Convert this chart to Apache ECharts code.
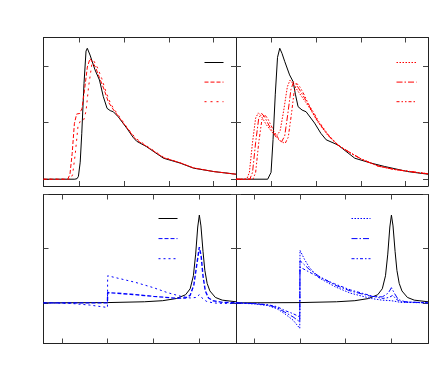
<!DOCTYPE html>
<html>
<head>
<meta charset="utf-8">
<script src="https://cdn.jsdelivr.net/npm/echarts@6/dist/echarts.min.js"></script>
<style>html,body{margin:0;padding:0;background:#fff}#c{width:436px;height:382px}</style>
</head>
<body>
<div id="c"></div>
<script>
// ---- tick values ----
const topTicksX = [0, 10, 20, 30];
const topTicksY = [0, 10, 20];
const botTicksX = [0, 10, 20, 30];
const botTicksY = [0, 1, 2];

// ---- top panels (red) ----
const refTop = [[-8,0],[-1,0],[-0.5,0.1],[-0.2,0.5],[0.2,3],[0.55,8.1],[1.05,16.9],[1.5,22.6],[1.78,23.1],[2.4,21.9],[3.5,19.3],[4.5,17.5],[5.35,14.6],[6.2,12.5],[6.9,12.1],[7.6,11.9],[8.7,11.0],[10.6,9.0],[12.0,7.4],[12.8,6.7],[15.0,5.75],[18.8,3.7],[22.5,2.85],[25.5,1.95],[30,1.35],[35,0.88]];
const redDashed = [[-8,0],[-2.6,0],[-2.1,0.8],[-1.6,4.5],[-1.1,9.8],[-0.6,11.5],[0.1,11.6],[0.6,12.5],[1.2,16],[1.8,19.8],[2.4,21.3],[2.8,21.4],[3.6,19.8],[4.5,17.9],[5.5,15.9],[6.5,13.6],[7.5,12.4],[8.7,11.1],[10.6,9.1],[12.2,7.4],[12.8,6.9],[15,5.8],[18.8,3.8],[22.5,2.9],[25.5,2.0],[30,1.35],[35,0.88]];
const redDotted = [[-8,0],[-2.0,0],[-1.5,0.8],[-0.9,4.5],[-0.3,9.3],[0.3,10.4],[1.0,10.5],[1.5,12],[2.1,16.5],[2.8,20.3],[3.3,20.8],[4.1,19.6],[5.0,17.8],[6.0,15.3],[7.0,13.3],[8.0,12.1],[9.0,11.0],[10.6,9.2],[12.0,7.8],[12.8,7.1],[15,5.9],[18.8,3.9],[22.5,2.9],[25.5,2.0],[30,1.35],[35,0.88]];

const refTop2 = [[-8,0],[-0.9,0],[-0.5,0.2],[-0.15,1.2],[0.3,7],[0.8,15],[1.3,21.5],[1.8,23.1],[2.3,22.2],[2.9,20.8],[4.0,18.4],[4.8,17.2],[5.3,15],[5.9,12.8],[6.8,12.2],[7.7,11.9],[9.6,9.9],[11,8.1],[12.2,6.95],[14.8,6.05],[18.6,3.7],[22.3,2.83],[25.3,2.24],[30.5,1.34],[35,0.88]];
const redR1 = [[-8,0],[-5.6,0],[-5.0,1.2],[-4.3,6.5],[-3.6,10.8],[-3.0,11.7],[-2.4,11.2],[-1.2,9.6],[0.2,8.2],[1.2,7.7],[1.9,8.6],[2.7,12.2],[3.5,16.3],[4.1,17.5],[4.8,16.8],[6.0,15.4],[7.5,13.7],[8.6,12.4],[10.4,10.0],[12.7,7.6],[14.9,5.9],[17.5,4.7],[20.2,3.5],[23.9,2.3],[27.6,1.7],[35,0.95]];
const redR2 = [[-8,0],[-4.9,0],[-4.3,1.2],[-3.6,6.5],[-2.9,10.8],[-2.25,11.6],[-1.6,11.0],[-0.3,9.0],[1.0,7.4],[2.2,6.6],[2.9,7.6],[3.6,11.5],[4.3,15.8],[4.9,17.2],[5.6,16.6],[6.6,15.3],[7.6,14.0],[8.6,12.6],[10.4,10.1],[12.7,7.7],[14.9,6.0],[17.5,4.7],[20.2,3.5],[23.9,2.3],[27.6,1.7],[35,0.95]];
const redR3 = [[-8,0],[-4.2,0],[-3.6,1.2],[-2.9,6.5],[-2.2,10.5],[-1.6,11.4],[-0.9,10.7],[0.4,8.6],[1.8,6.8],[3.0,6.3],[3.7,7.4],[4.4,11.4],[5.0,15.3],[5.6,16.9],[6.3,16.3],[7.2,15.0],[8.2,13.3],[9.2,12.0],[10.6,10.1],[12.7,7.8],[14.9,6.0],[17.5,4.7],[20.2,3.5],[23.9,2.3],[27.6,1.7],[35,0.95]];

// ---- bottom panels (blue) ----
const refBot = [[-4,0],[10,0.005],[18,0.02],[22,0.04],[25,0.08],[27,0.15],[28,0.26],[28.7,0.5],[29.2,0.9],[29.65,1.4],[30,1.62],[30.35,1.42],[30.8,0.95],[31.2,0.6],[31.7,0.36],[32.3,0.22],[33.5,0.1],[35,0.05],[38,0.02]];
const blueDashed = [[-4,0],[9.95,0],[10,0.19],[15,0.16],[20,0.12],[25,0.085],[27,0.09],[28,0.14],[28.8,0.33],[29.4,0.68],[30,1.03],[30.4,0.86],[30.8,0.5],[31.3,0.22],[32,0.09],[33,0.04],[35,0.01],[38,0.0]];
const blueDotted = [[-4,0],[2,-0.01],[6,-0.04],[9.95,-0.085],[10,0.5],[13,0.44],[16,0.38],[20,0.28],[23,0.19],[26,0.12],[28,0.09],[29.3,0.1],[30,0.15],[30.6,0.09],[31.5,0.03],[33,0.0],[35,-0.01],[38,-0.01]];

const blueB1 = [[-4,0],[0,-0.02],[3,-0.05],[5,-0.11],[6.65,-0.2],[8.5,-0.32],[9.95,-0.47],[10,0.97],[11,0.8],[12,0.66],[14,0.47],[17.6,0.3],[21,0.18],[25.6,0.08],[28,0.05],[30,0.04],[32,0.01],[38,0]];
const blueB2 = [[-4,0],[0,-0.015],[3,-0.04],[5,-0.09],[6.65,-0.17],[8.5,-0.26],[9.95,-0.35],[10,0.78],[12,0.62],[14,0.5],[17.6,0.33],[21,0.22],[25.6,0.12],[28,0.11],[29.3,0.18],[30,0.28],[30.7,0.17],[31.5,0.06],[33,0.02],[38,0]];
const blueB3 = [[-4,0],[0,-0.01],[3,-0.035],[5,-0.07],[6.65,-0.14],[8.5,-0.2],[9.95,-0.26],[10,0.66],[12,0.57],[14,0.48],[17.6,0.35],[21,0.24],[25.6,0.13],[28,0.08],[29.5,0.1],[30.3,0.14],[31,0.07],[32,0.02],[38,0]];

const chart = echarts.init(document.getElementById('c'), null, {renderer: 'canvas'});

const grids = [
  {left: 43.5, top: 37.5, width: 192.5, height: 148.5},
  {left: 236, top: 37.5, width: 192, height: 148.5},
  {left: 43.5, top: 194.5, width: 192.5, height: 149},
  {left: 236, top: 194.5, width: 192, height: 149}
];
const xr = [[-8,35,topTicksX],[-8,35,topTicksX],[-4,38,botTicksX],[-4,38,botTicksX]];
const yr = [[-1.2,25,topTicksY],[-1.2,25,topTicksY],[-0.75,2,botTicksY],[-0.75,2,botTicksY]];

const lineCol = '#222';
function ax(min, max, ticks, pos, gi) {
  return {
    type: 'value', gridIndex: gi, position: pos, min: min, max: max,
    axisLine: {show: true, onZero: false, lineStyle: {color: lineCol, width: 1}},
    axisTick: {show: true, inside: true, length: 5, customValues: ticks, lineStyle: {color: '#444', width: 1}},
    axisLabel: {show: false, customValues: ticks},
    splitLine: {show: false}
  };
}
const xAxes = [], yAxes = [];
for (let g = 0; g < 4; g++) {
  xAxes.push(ax(xr[g][0], xr[g][1], xr[g][2], 'bottom', g));
  xAxes.push(ax(xr[g][0], xr[g][1], xr[g][2], 'top', g));
  yAxes.push(ax(yr[g][0], yr[g][1], yr[g][2], 'left', g));
  yAxes.push(ax(yr[g][0], yr[g][1], yr[g][2], 'right', g));
}

function s(name, data, g, color, type, width) {
  return {
    name: name, type: 'line', data: data, xAxisIndex: 2*g, yAxisIndex: 2*g,
    showSymbol: false, symbol: 'none', smooth: false, animation: false,
    lineStyle: {color: color, width: width || 1, type: type},
    itemStyle: {color: color}, z: 2
  };
}
const series = [
  s('ref1', refTop, 0, '#000', 'solid'),
  s('rd1', redDashed, 0, '#ff0000', [4,2]),
  s('rt1', redDotted, 0, '#ff0000', [2,4]),
  s('ref2', refTop2, 1, '#000', 'solid'),
  s('r1', redR1, 1, '#ff0000', [1.5,1.5]),
  s('r2', redR2, 1, '#ff0000', [6,2,1.5,2]),
  s('r3', redR3, 1, '#ff0000', [3,2,1.5,2,1.5,2]),
  s('ref3', refBot, 2, '#000', 'solid'),
  s('bd', blueDashed, 2, '#0000ff', [4,2], 1.4),
  s('bt', blueDotted, 2, '#0000ff', [2,3]),
  s('ref4', refBot, 3, '#000', 'solid'),
  s('b1', blueB1, 3, '#0000ff', [1.5,1.5]),
  s('b2', blueB2, 3, '#0000ff', [6,2,1.5,2]),
  s('b3', blueB3, 3, '#0000ff', [3,2,1.5,2])
];

function lg(names, left, top, w, gap) {
  return {
    data: names, orient: 'vertical', left: left, top: top, padding: 0,
    itemWidth: w, itemHeight: 14, itemGap: gap, selectedMode: false,
    lineStyle: {width: 1},
    itemStyle: {color: 'rgba(0,0,0,0)', borderColor: 'rgba(0,0,0,0)', borderWidth: 0, opacity: 0},
    formatter: function () { return ''; }, textStyle: {fontSize: 1}
  };
}

chart.setOption({
  animation: false,
  backgroundColor: '#fff',
  grid: grids,
  xAxis: xAxes,
  yAxis: yAxes,
  legend: [
    lg(['ref1','rd1','rt1'], 204, 55.5, 19, 7),
    lg(['r1','r2','r3'], 396, 55.5, 20, 7),
    lg(['ref3','bd','bt'], 158, 211.5, 19, 7.5),
    lg(['b1','b2','b3'], 351, 211.5, 19, 7.5)
  ],
  series: series
});
</script>
</body>
</html>
